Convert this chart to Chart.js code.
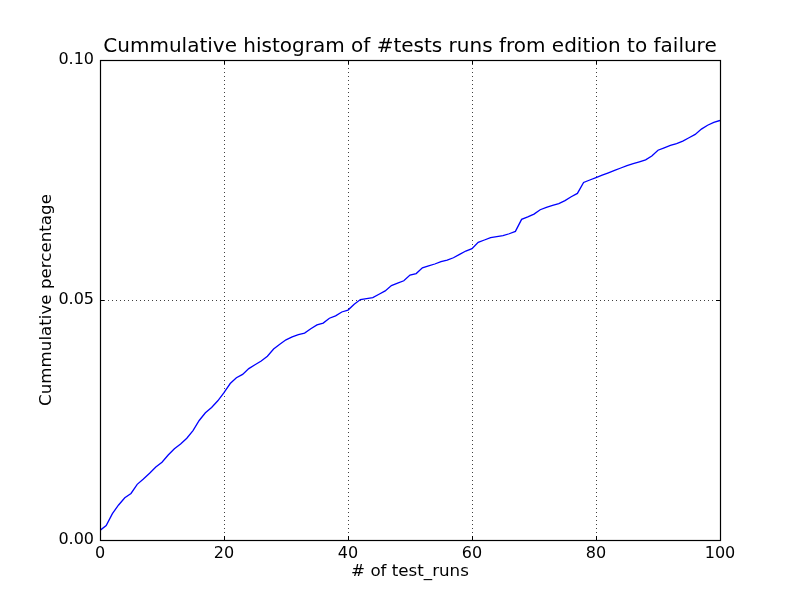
<!DOCTYPE html>
<html>
<head>
<meta charset="utf-8">
<script src="https://cdn.jsdelivr.net/npm/chart.js@4/dist/chart.umd.min.js"></script>
<style>
html,body{margin:0;padding:0;background:#fff;}
#wrap{width:800px;height:600px;position:relative;}
</style>
</head>
<body>
<div id="wrap"><canvas id="c" width="800" height="600"></canvas></div>
<script>
const titleText = "Cummulative histogram of #tests runs from edition to failure";
const xLabel = "# of test_runs";
const yLabel = "Cummulative percentage";
const xTicks = [0, 20, 40, 60, 80, 100];
const yTicks = [0, 0.05, 0.10];
const yTickLabels = ["0.00", "0.05", "0.10"];
const testRuns = [0,1,2,3,4,5,6,7,8,9,10,11,12,13,14,15,16,17,18,19,20,21,22,23,24,25,26,27,28,29,30,31,32,33,34,35,36,37,38,39,40,41,42,43,44,45,46,47,48,49,50,51,52,53,54,55,56,57,58,59,60,61,62,63,64,65,66,67,68,69,70,71,72,73,74,75,76,77,78,79,80,81,82,83,84,85,86,87,88,89,90,91,92,93,94,95,96,97,98,99,100];
const cumPct = [
0.0020,0.0030,0.0055,0.0073,0.0088,0.0097,0.0116,0.0127,0.0139,0.0152,
0.0162,0.0177,0.0190,0.0200,0.0212,0.0228,0.0249,0.0265,0.0276,0.0290,
0.0307,0.0326,0.0338,0.0345,0.0357,0.0365,0.0373,0.0383,0.0398,0.0408,
0.0417,0.0423,0.0428,0.0431,0.0440,0.0448,0.0452,0.0462,0.0467,0.0475,
0.0479,0.0491,0.0501,0.0503,0.0505,0.0512,0.0519,0.0530,0.0535,0.0540,
0.0552,0.0555,0.0567,0.0571,0.0575,0.0580,0.0583,0.0588,0.0595,0.0602,
0.0607,0.0620,0.0625,0.0630,0.0632,0.0634,0.0638,0.0643,0.0668,0.0673,
0.0679,0.0688,0.0693,0.0697,0.0701,0.0707,0.0715,0.0722,0.0745,0.0750,
0.0755,0.0760,0.0765,0.0770,0.0775,0.0780,0.0784,0.0788,0.0792,0.0800,
0.0812,0.0817,0.0822,0.0826,0.0831,0.0838,0.0845,0.0856,0.0864,0.0870,
0.0874];

const FONT = "'DejaVu Sans', sans-serif";

const framePlugin = {
  id: 'frame',
  afterDatasetsDraw(chart) {
    const ctx = chart.ctx;
    const a = chart.chartArea;
    const xs = chart.scales.x, ys = chart.scales.y;
    ctx.save();
    ctx.strokeStyle = '#000';
    ctx.lineWidth = 1;
    ctx.beginPath();
    xTicks.forEach(v => {
      const px = Math.round(xs.getPixelForValue(v)) + 0.5;
      ctx.moveTo(px, a.bottom); ctx.lineTo(px, a.bottom - 4);
      ctx.moveTo(px, a.top); ctx.lineTo(px, a.top + 4);
    });
    yTicks.forEach(v => {
      const py = Math.round(ys.getPixelForValue(v)) + 0.5;
      ctx.moveTo(a.left, py); ctx.lineTo(a.left + 4, py);
      ctx.moveTo(a.right, py); ctx.lineTo(a.right - 4, py);
    });
    ctx.stroke();
    ctx.lineWidth = 1.2;
    ctx.strokeRect(Math.round(a.left) + 0.5, Math.round(a.top) + 0.5, Math.round(a.right - a.left), Math.round(a.bottom - a.top));
    // title centred over the plot area
    ctx.fillStyle = '#000';
    ctx.font = "20px " + FONT;
    ctx.textAlign = 'center';
    ctx.textBaseline = 'middle';
    ctx.fillText(titleText, (a.left + a.right) / 2, a.top - 13);
    ctx.restore();
  }
};

new Chart(document.getElementById('c'), {
  type: 'line',
  data: {
    datasets: [{
      data: testRuns.map((x, i) => ({x: x, y: cumPct[i]})),
      borderColor: '#0000ff',
      borderWidth: 1.3,
      pointRadius: 0,
      tension: 0,
      fill: false
    }]
  },
  options: {
    responsive: false,
    animation: false,
    devicePixelRatio: 1,
    layout: { padding: { left: 0, right: 80, top: 60, bottom: 0 } },
    plugins: {
      legend: { display: false },
      tooltip: { enabled: false },
      title: { display: false }
    },
    scales: {
      x: {
        type: 'linear',
        min: 0, max: 100,
        afterBuildTicks: s => { s.ticks = xTicks.map(v => ({value: v})); },
        afterFit: s => { s.height = 60; },
        ticks: { color: '#000', font: { family: FONT, size: 16 }, padding: 4, maxRotation: 0 },
        grid: { color: 'rgba(0,0,0,0.75)', lineWidth: 1, drawTicks: false },
        border: { display: false, dash: [1, 3] },
        title: { display: true, text: xLabel, color: '#000', font: { family: FONT, size: 16.7, lineHeight: 1.2 }, padding: { top: 0, bottom: 18 } }
      },
      y: {
        type: 'linear',
        min: 0, max: 0.1,
        afterBuildTicks: s => { s.ticks = yTicks.map(v => ({value: v})); },
        afterFit: s => { s.width = 100; },
        ticks: { color: '#000', font: { family: FONT, size: 16 }, padding: 6,
                 callback: (v, i) => yTickLabels[i] },
        grid: { color: 'rgba(0,0,0,0.75)', lineWidth: 1, drawTicks: false },
        border: { display: false, dash: [1, 3] },
        title: { display: true, text: yLabel, color: '#000', font: { family: FONT, size: 16.7, lineHeight: 1.2 }, padding: { top: 37, bottom: 0 } }
      }
    }
  },
  plugins: [framePlugin]
});
</script>
</body>
</html>
